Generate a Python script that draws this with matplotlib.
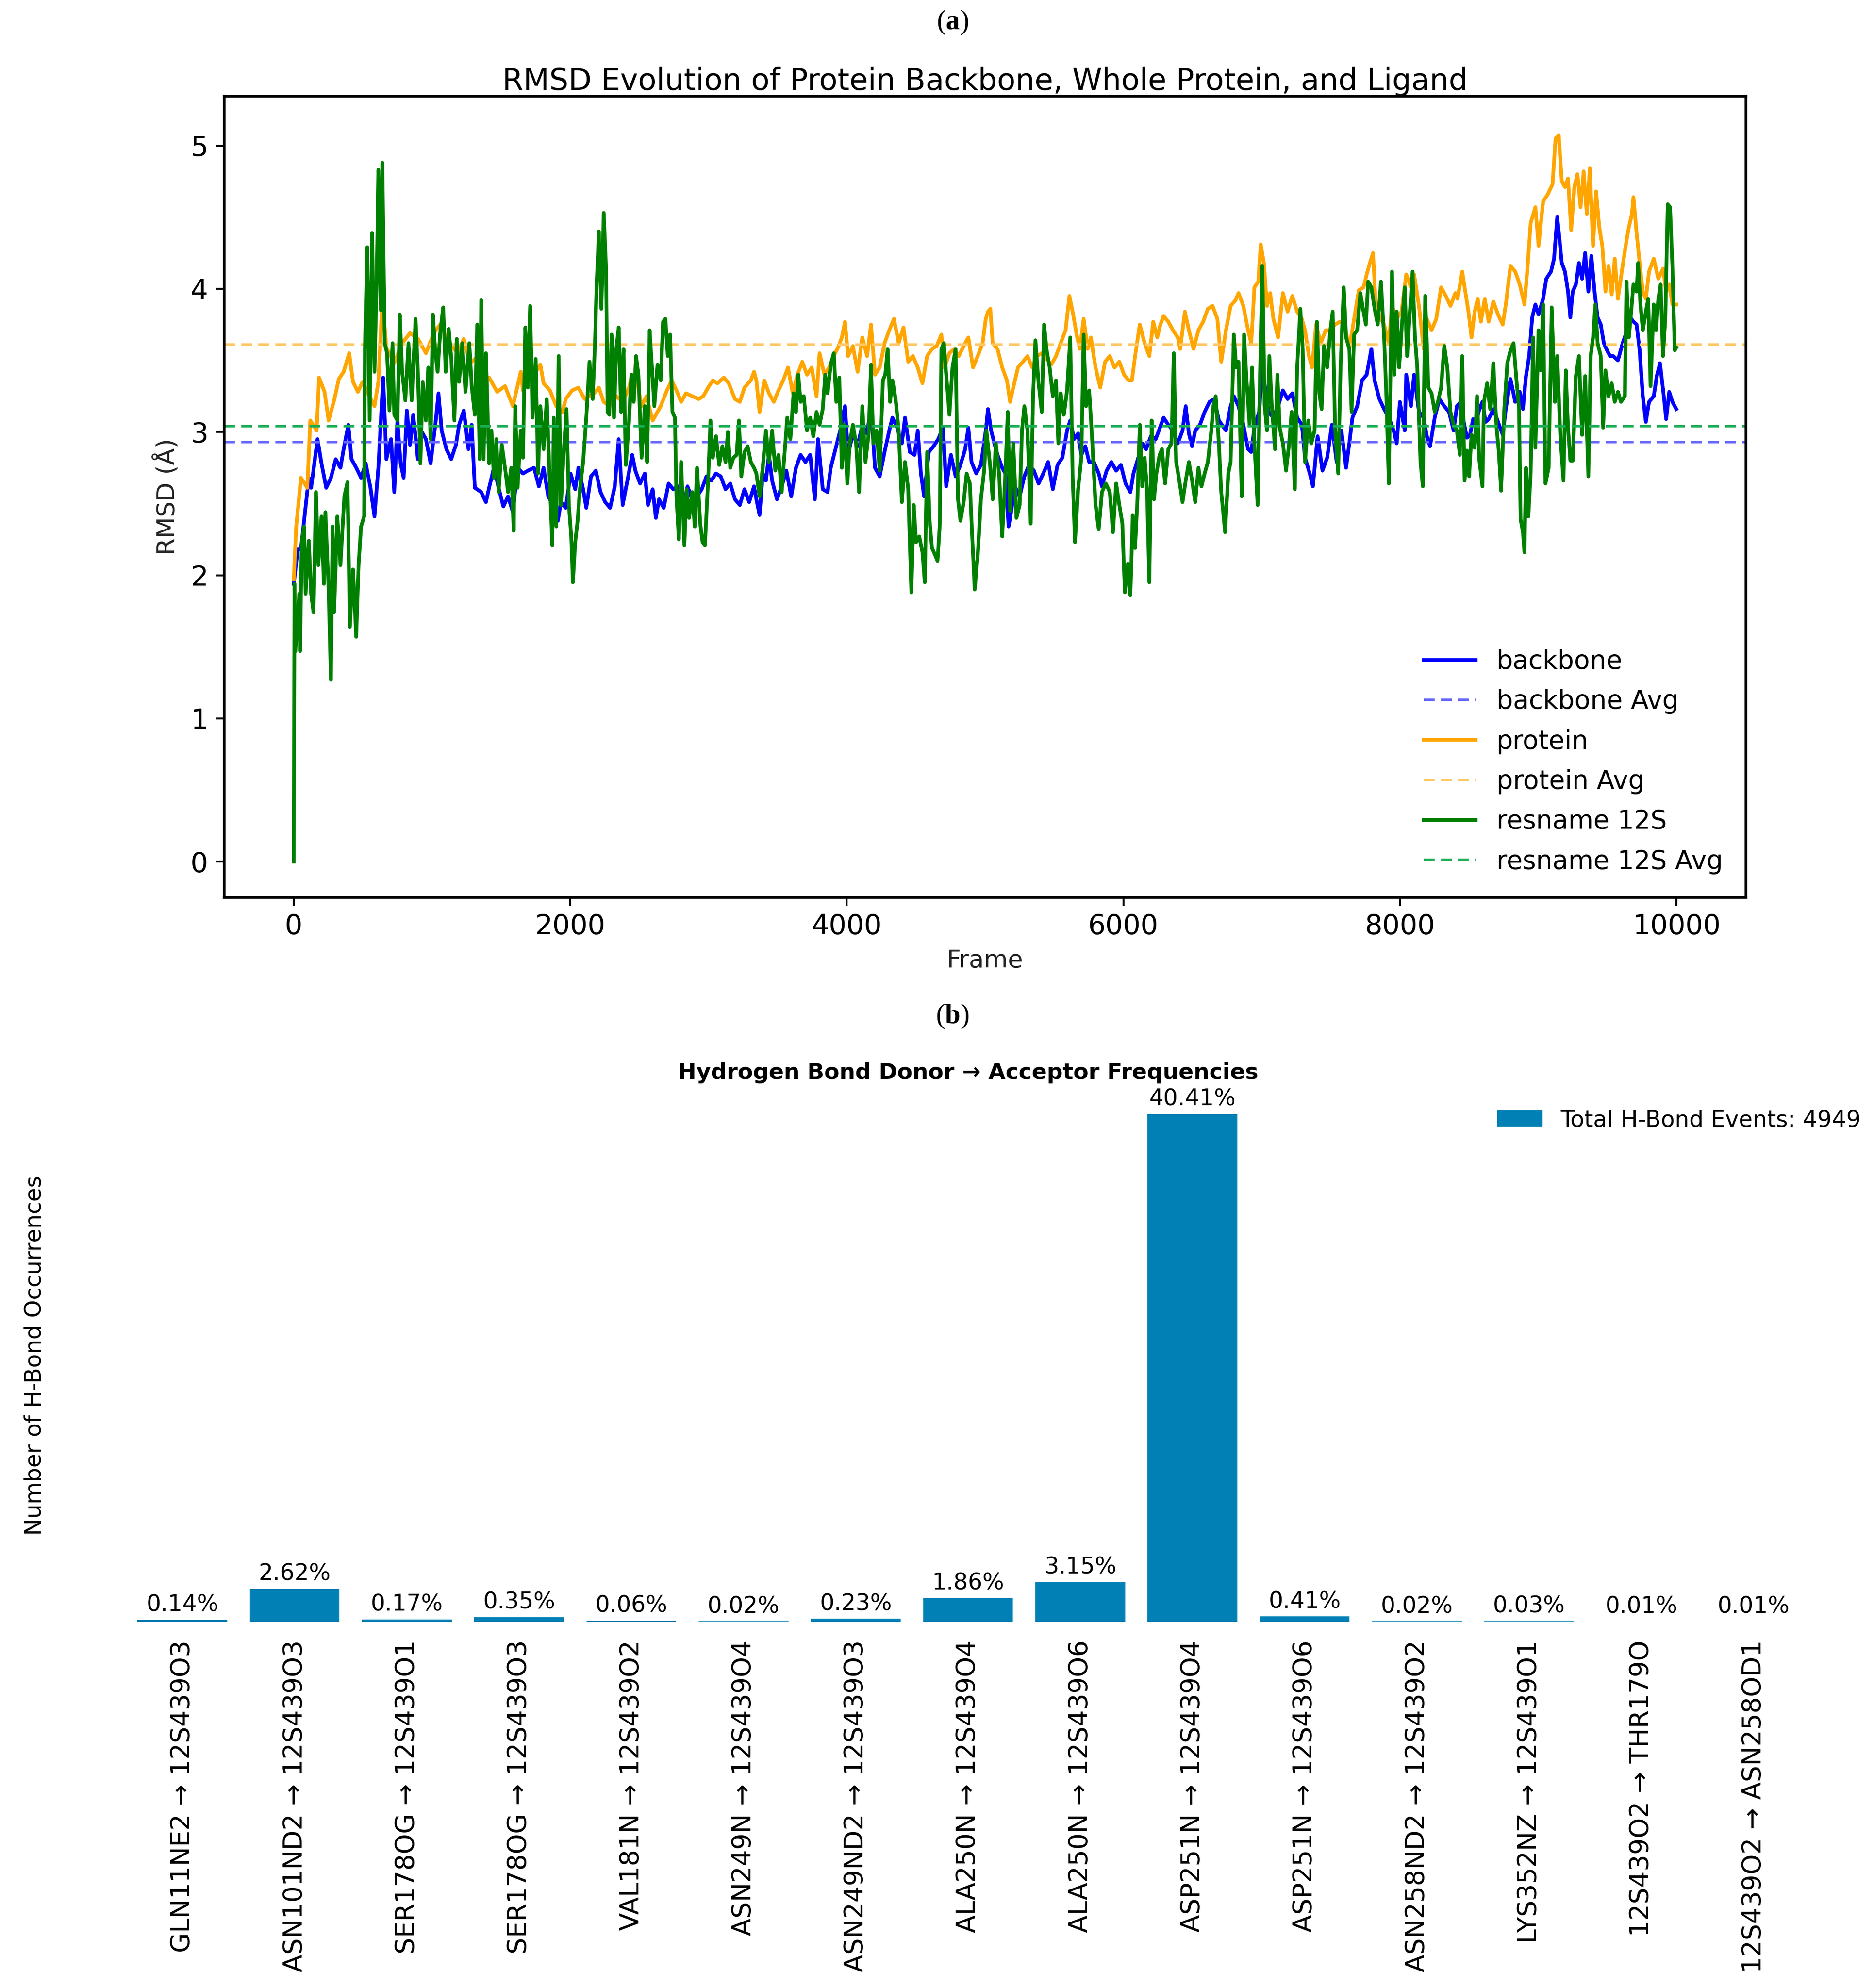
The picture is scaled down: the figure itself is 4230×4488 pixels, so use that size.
import matplotlib
matplotlib.use("Agg")
import matplotlib.pyplot as plt

# ---------------- data: RMSD traces (frame, RMSD in Å) ----------------
backbone = [
    (0,1.94),(29,2.18),(52,2.18),(109,2.68),(126,2.61),(172,2.95),(201,2.78),(235,2.61),(269,2.68),(304,2.81),
    (338,2.75),(361,2.88),(395,3.05),(418,2.81),(452,2.75),(487,2.68),(521,2.78),(555,2.61),(584,2.41),(612,2.75),
    (647,3.38),(670,2.81),(704,2.95),(727,2.58),(750,3.08),(773,2.78),(795,2.68),(818,3.15),(841,2.91),(864,3.12),
    (898,2.81),(921,3.01),(956,2.95),(990,2.78),(1024,3.05),(1047,3.27),(1070,3.01),(1104,2.88),(1139,2.81),(1173,2.91),
    (1196,3.05),(1230,3.15),(1264,2.88),(1287,3.05),(1310,2.61),(1356,2.58),(1390,2.51),(1413,2.61),(1448,2.75),(1482,2.61),
    (1516,2.48),(1550,2.55),(1585,2.44),(1619,2.75),
    (1658,2.71),(1693,2.73),(1738,2.75),(1773,2.62),(1807,2.75),(1841,2.55),(1876,2.49),(1910,2.38),(1933,2.51),(1967,2.47),
    (2002,2.71),(2036,2.60),(2059,2.75),(2093,2.60),(2116,2.47),(2150,2.69),(2185,2.73),(2219,2.58),(2253,2.51),(2288,2.47),
    (2322,2.62),(2350,2.95),(2379,2.49),(2413,2.66),(2448,2.84),(2471,2.73),(2505,2.64),(2539,2.71),(2562,2.49),(2596,2.60),
    (2619,2.40),(2642,2.53),(2676,2.47),(2711,2.64),(2745,2.60),(2779,2.62),(2814,2.45),(2848,2.62),(2882,2.53),(2917,2.55),
    (2951,2.60),(2985,2.69),(3020,2.66),(3054,2.71),(3088,2.69),(3123,2.60),(3157,2.64),(3191,2.53),(3226,2.49),(3260,2.60),
    (3294,2.51),(3329,2.62),
    (3346,2.53),(3369,2.42),(3392,2.71),(3415,2.66),(3437,2.84),(3460,2.66),(3495,2.53),(3529,2.62),(3563,2.73),(3598,2.55),
    (3632,2.75),(3666,2.84),(3701,2.79),(3735,2.84),(3769,2.53),(3792,2.95),(3826,2.60),(3861,2.58),(3884,2.75),(3918,2.88),
    (3952,3.01),(3987,3.18),(4009,2.84),(4044,2.99),(4078,2.90),(4112,3.05),(4147,2.99),(4175,3.18),(4204,2.75),(4238,2.69),
    (4273,2.86),(4307,3.01),(4330,3.10),(4364,3.03),(4398,2.92),(4421,3.10),(4456,2.86),(4490,2.84),(4513,3.01),(4536,2.71),
    (4559,2.55),(4593,2.86),(4627,2.90),(4661,2.95),(4696,3.03),(4719,2.62),(4753,2.84),(4787,2.69),(4822,2.77),(4856,2.88),
    (4879,3.03),(4902,2.79),(4936,2.71),(4970,2.77),(5005,3.01),
    (5021,3.16),(5044,3.01),(5067,2.92),(5090,2.84),(5124,2.75),(5147,2.71),(5170,2.34),(5193,2.47),(5215,2.62),(5250,2.55),
    (5284,2.69),(5318,2.77),(5353,2.73),(5387,2.64),(5421,2.71),(5456,2.79),(5490,2.60),(5524,2.77),(5559,2.82),(5593,3.01),
    (5616,3.08),(5644,2.95),(5673,2.99),(5696,2.84),(5725,2.90),(5753,2.79),(5787,2.79),(5822,2.71),(5845,2.62),(5879,2.73),
    (5913,2.79),(5948,2.73),(5982,2.77),(6016,2.64),(6051,2.58),(6073,2.71),(6108,2.82),(6142,2.92),(6165,2.88),(6199,2.97),
    (6234,2.95),(6257,3.01),(6291,3.10),(6325,3.05),(6359,3.01),(6394,2.92),(6428,3.01),(6451,3.18),(6474,2.99),(6497,2.90),
    (6520,3.01),(6554,3.05),(6588,3.14),(6623,3.21),(6657,3.23),(6691,3.08),
    (6742,3.01),(6776,3.18),(6799,3.25),(6833,3.18),(6868,3.05),(6902,2.88),(6925,2.86),(6948,3.03),(6982,3.14),(7005,3.45),
    (7028,3.27),(7051,3.14),(7085,3.10),(7119,3.18),(7154,3.29),(7188,3.23),(7222,3.27),(7257,3.10),(7291,3.05),(7314,2.82),
    (7348,2.71),(7371,2.62),(7405,2.97),(7440,2.73),(7474,2.82),(7508,3.05),(7543,2.79),(7577,3.01),(7611,2.75),(7634,2.92),
    (7657,3.10),(7691,3.18),(7726,3.36),(7760,3.40),(7794,3.58),(7817,3.36),(7852,3.23),(7886,3.16),(7920,3.10),(7955,3.01),
    (7977,2.92),(8000,3.21),(8035,3.01),(8046,3.40),(8080,3.18),(8103,3.40),(8138,3.14),(8172,3.10),(8195,2.97),(8218,2.90),
    (8252,3.10),(8286,3.23),(8321,3.18),(8355,3.14),(8389,3.01),(8412,3.18),
    (8440,3.21),(8462,3.07),(8485,2.96),(8507,2.98),(8530,3.09),(8552,3.07),(8575,3.16),(8597,3.21),(8620,3.07),(8642,3.09),
    (8676,3.16),(8710,3.07),(8744,2.98),(8766,3.16),(8800,3.37),(8834,3.21),(8867,3.28),(8890,3.16),(8912,3.39),(8935,3.53),
    (8957,3.80),(8980,3.89),(9003,3.82),(9036,3.93),(9059,4.07),(9093,4.12),(9115,4.21),(9138,4.50),(9155,4.34),(9171,4.18),
    (9194,4.12),(9216,3.98),(9233,3.80),(9250,3.98),(9273,4.03),(9295,4.18),(9318,4.07),(9340,4.25),(9363,3.98),(9385,4.23),
    (9408,3.98),(9430,3.80),(9453,3.75),(9475,3.62),(9498,3.57),(9520,3.53),(9543,3.53),(9577,3.50),(9611,3.62),(9644,3.71),
    (9667,3.80),(9689,3.77),(9712,3.75),(9734,3.57),(9757,3.25),(9779,3.07),(9802,3.21),(9836,3.25),(9858,3.39),(9881,3.48),
    (9903,3.30),(9926,3.09),(9948,3.28),(9971,3.21),(9999,3.16),
]

protein = [
    (0,1.97),(18,2.34),(52,2.68),(98,2.61),(120,3.08),(166,3.01),(183,3.38),(223,3.28),(252,3.08),(292,3.22),
    (326,3.37),(361,3.42),(401,3.55),(429,3.35),(464,3.28),(498,3.35),(532,3.28),(584,3.18),(612,3.35),(641,3.92),
    (670,3.59),(727,3.48),(784,3.62),(841,3.69),(899,3.65),(956,3.55),(1013,3.69),(1059,3.75),(1127,3.62),(1185,3.55),
    (1230,3.65),(1276,3.48),(1322,3.52),(1368,3.35),(1413,3.38),(1471,3.28),(1528,3.32),(1585,3.18),(1642,3.42),
    (1658,3.29),(1693,3.45),(1738,3.40),(1784,3.47),(1807,3.34),(1853,3.29),(1899,3.18),(1944,3.14),(1967,3.23),(2013,3.29),
    (2059,3.31),(2104,3.23),(2139,3.25),(2173,3.27),(2207,3.31),(2242,3.21),(2288,3.18),(2333,3.25),(2379,3.21),(2425,3.31),
    (2448,3.40),(2482,3.36),(2516,3.18),(2551,3.25),(2596,3.08),(2631,3.14),(2654,3.18),(2699,3.29),(2734,3.36),(2768,3.29),
    (2802,3.21),(2837,3.27),(2882,3.25),(2928,3.23),(2962,3.25),(2997,3.31),(3031,3.36),(3065,3.34),(3111,3.38),(3146,3.34),
    (3191,3.23),(3226,3.21),(3260,3.31),(3306,3.36),(3329,3.42),
    (3346,3.36),(3369,3.14),(3403,3.36),(3437,3.27),(3472,3.21),(3506,3.29),(3540,3.36),(3575,3.45),(3609,3.27),(3643,3.40),
    (3678,3.49),(3712,3.40),(3746,3.45),(3781,3.25),(3803,3.55),(3838,3.40),(3872,3.45),(3906,3.53),(3941,3.60),(3964,3.66),
    (3987,3.77),(4009,3.53),(4044,3.60),(4078,3.42),(4112,3.66),(4147,3.53),(4175,3.75),(4204,3.40),(4238,3.45),(4273,3.62),
    (4307,3.71),(4341,3.79),(4375,3.62),(4410,3.73),(4444,3.49),(4478,3.53),(4513,3.45),(4547,3.34),(4581,3.53),(4616,3.58),
    (4650,3.60),(4684,3.68),(4707,3.45),(4742,3.55),(4776,3.58),(4810,3.53),(4845,3.60),(4879,3.66),(4913,3.45),(4947,3.53),
    (4982,3.62),(5005,3.79),
    (5021,3.84),(5038,3.86),(5055,3.62),(5090,3.58),(5124,3.45),(5158,3.36),(5181,3.21),(5204,3.31),(5238,3.45),(5273,3.49),
    (5307,3.53),(5341,3.45),(5376,3.53),(5410,3.55),(5444,3.51),(5479,3.47),(5513,3.53),(5547,3.62),(5582,3.71),(5610,3.95),
    (5639,3.81),(5662,3.68),(5685,3.58),(5713,3.79),(5742,3.58),(5765,3.66),(5799,3.45),(5833,3.31),(5868,3.49),(5902,3.53),
    (5936,3.45),(5971,3.49),(6005,3.40),(6039,3.36),(6062,3.36),(6085,3.53),(6119,3.75),(6154,3.62),(6188,3.53),(6216,3.77),
    (6245,3.66),(6268,3.75),(6291,3.81),(6325,3.77),(6359,3.71),(6394,3.66),(6411,3.58),(6445,3.84),(6474,3.71),(6508,3.58),
    (6543,3.71),(6577,3.77),(6611,3.86),(6645,3.88),(6680,3.79),(6708,3.49),
    (6742,3.71),(6776,3.88),(6811,3.92),(6833,3.97),(6868,3.88),(6902,3.71),(6925,3.62),(6948,4.01),(6976,4.05),(6994,4.31),
    (7016,4.18),(7039,3.88),(7062,3.97),(7085,3.79),(7119,3.66),(7154,3.97),(7188,3.84),(7222,3.95),(7257,3.84),(7291,3.79),
    (7314,3.71),(7342,3.53),(7365,3.45),(7394,3.75),(7428,3.62),(7463,3.71),(7497,3.71),(7531,3.75),(7566,3.77),(7600,3.75),
    (7634,3.58),(7669,3.79),(7703,3.99),(7737,4.01),(7760,4.10),(7783,4.18),(7806,4.25),(7823,3.92),(7852,3.81),(7886,3.75),
    (7920,3.62),(7943,3.88),(7977,3.79),(8012,3.84),(8046,4.10),(8080,4.01),(8103,4.10),(8138,3.88),(8172,3.58),(8195,3.79),
    (8229,3.71),(8263,3.79),(8298,4.01),(8332,3.95),(8366,3.88),(8401,3.97),
    (8417,3.93),(8451,4.12),(8473,3.98),(8496,3.84),(8518,3.66),(8541,3.84),(8563,3.93),(8586,3.77),(8614,3.93),(8642,3.77),
    (8676,3.91),(8710,3.82),(8744,3.75),(8766,3.89),(8800,4.16),(8834,4.12),(8867,4.03),(8901,3.89),(8924,4.16),(8946,4.46),
    (8980,4.57),(9003,4.30),(9036,4.61),(9070,4.66),(9104,4.73),(9126,5.05),(9149,5.07),(9171,4.75),(9194,4.71),(9216,4.77),
    (9239,4.41),(9262,4.71),(9284,4.80),(9307,4.57),(9329,4.82),(9352,4.52),(9374,4.84),(9397,4.30),(9419,4.68),(9442,4.43),
    (9464,4.30),(9487,3.98),(9509,4.16),(9532,3.96),(9554,4.21),(9577,3.93),(9611,4.16),(9633,4.30),(9656,4.43),(9678,4.52),
    (9689,4.64),(9712,4.39),(9734,4.18),(9757,3.98),(9779,3.93),(9802,4.12),(9836,4.21),(9869,4.07),(9903,4.14),(9926,3.98),
    (9948,4.03),(9971,3.89),(9999,3.89),
]

ligand = [
    (0,0.00),(6,1.94),(12,1.47),(40,1.87),(46,1.47),(58,2.24),(75,2.34),(86,1.87),(109,2.24),(126,1.87),
    (143,1.74),(161,2.58),(178,2.07),(201,2.41),(218,1.94),(229,2.44),(252,1.91),(269,1.27),(281,2.34),(292,1.74),
    (315,2.41),(338,2.07),(366,2.55),(389,2.65),(406,1.64),(429,2.04),(452,1.57),(469,2.07),(487,2.34),(509,2.41),
    (515,3.59),(532,4.29),(549,3.08),(567,4.39),(584,3.42),(601,4.09),(612,4.83),(630,3.85),(641,4.88),(658,3.62),
    (675,3.55),(692,3.15),(715,3.62),(727,3.12),(750,3.08),(767,3.82),(784,3.42),(807,3.22),(830,3.62),(853,3.22),
    (881,3.79),(898,3.42),(916,2.78),(933,3.35),(956,3.08),(973,3.45),(990,2.95),(1007,3.82),(1024,3.55),(1041,3.42),
    (1059,3.69),(1081,3.87),(1099,3.42),(1121,3.72),(1139,3.52),(1162,3.08),(1179,3.65),(1196,3.35),(1219,3.62),(1242,3.28),
    (1270,3.62),(1287,3.32),(1310,3.12),(1327,3.75),(1345,2.81),(1356,3.92),(1373,2.81),(1390,3.55),(1413,2.78),(1430,3.01),
    (1448,2.68),(1465,2.95),(1482,2.58),(1505,2.91),(1528,2.75),(1550,2.58),(1573,2.75),(1591,2.31),(1602,3.18),(1619,2.61),
    (1642,3.01),
    (1658,2.82),(1675,3.73),(1693,3.31),(1710,3.88),(1727,3.10),(1750,3.51),(1767,2.71),(1784,3.18),(1807,2.88),(1830,3.23),
    (1853,2.62),(1870,2.21),(1881,3.10),(1899,2.34),(1916,3.53),(1933,2.49),(1950,2.82),(1973,3.16),(1990,2.49),(2007,2.27),
    (2019,1.95),(2036,2.23),(2053,2.38),(2070,2.60),(2093,2.79),(2116,3.10),(2139,3.49),(2162,3.23),(2179,3.62),(2190,4.01),
    (2207,4.40),(2225,3.86),(2242,4.53),(2259,4.14),(2270,3.14),(2282,3.12),(2299,3.68),(2316,3.10),(2333,3.58),(2350,3.73),
    (2368,3.14),(2385,3.58),(2402,2.77),(2425,3.08),(2442,3.40),(2459,3.21),(2476,3.53),(2493,3.40),(2516,2.82),(2539,3.18),
    (2556,2.79),(2574,3.71),(2591,3.45),(2608,3.18),(2631,3.47),(2654,3.36),(2671,3.77),(2688,3.79),(2705,3.53),(2722,3.68),
    (2739,3.14),(2757,3.10),(2768,2.55),(2785,2.25),(2802,2.79),(2825,2.21),(2842,2.60),(2860,2.40),(2882,2.58),(2900,2.34),
    (2917,2.75),(2940,2.36),(2957,2.23),(2974,2.21),(2997,2.66),(3014,3.08),(3031,2.82),(3054,2.97),(3077,2.77),(3100,2.90),
    (3123,2.79),(3140,3.00),(3157,2.75),(3180,2.82),(3203,2.84),(3220,3.08),(3237,2.69),(3260,2.86),(3283,2.90),(3306,2.79),
    (3329,2.75),
    (3346,2.71),(3369,2.55),(3392,2.75),(3415,3.01),(3437,2.79),(3460,3.01),(3483,2.73),(3506,2.84),(3529,2.58),(3552,2.88),
    (3569,3.10),(3592,2.95),(3615,3.27),(3632,3.14),(3649,3.40),(3666,3.21),(3689,3.25),(3712,3.01),(3735,3.10),(3758,2.97),
    (3781,3.14),(3803,3.05),(3826,3.16),(3844,3.40),(3861,3.27),(3884,3.47),(3906,3.55),(3924,3.21),(3946,3.38),(3964,2.75),
    (3981,3.05),(4004,2.64),(4021,2.92),(4044,3.05),(4067,2.92),(4089,2.58),(4112,3.18),(4135,2.79),(4158,2.99),(4175,3.47),
    (4192,2.92),(4215,3.01),(4238,2.73),(4261,3.36),(4278,3.40),(4295,3.58),(4313,3.21),(4330,3.36),(4353,3.23),(4375,3.01),
    (4398,2.51),(4421,2.79),(4444,2.60),(4467,1.88),(4484,2.49),(4501,2.23),(4524,2.27),(4547,2.16),(4564,1.95),(4581,2.86),
    (4599,2.38),(4616,2.19),(4639,2.14),(4656,2.10),(4673,2.36),(4684,3.58),(4702,3.62),(4719,3.40),(4742,3.12),(4764,3.45),
    (4787,3.58),(4804,2.53),(4822,2.38),(4845,2.51),(4867,2.71),(4890,2.64),(4907,2.27),(4925,1.90),(4947,2.14),(4970,2.53),
    (4993,2.73),(5010,3.01),
    (5038,2.75),(5055,2.53),(5078,2.92),(5101,2.71),(5124,2.27),(5147,2.71),(5164,3.14),(5181,2.45),(5204,2.92),(5227,2.40),
    (5250,2.49),(5267,3.01),(5284,3.18),(5307,3.01),(5330,2.36),(5347,3.25),(5364,3.64),(5387,3.34),(5410,3.14),(5427,3.75),
    (5444,3.58),(5467,3.45),(5490,3.25),(5513,3.36),(5530,2.92),(5547,3.27),(5570,3.12),(5593,3.29),(5616,3.66),(5633,2.71),
    (5650,2.23),(5673,2.60),(5696,2.82),(5713,3.68),(5730,3.18),(5753,3.29),(5776,2.92),(5799,2.49),(5822,2.32),(5845,2.58),
    (5873,2.64),(5902,2.58),(5925,2.30),(5948,2.64),(5971,2.49),(5993,2.36),(6011,1.88),(6033,2.08),(6051,1.86),(6068,2.42),
    (6085,2.19),(6102,2.53),(6119,3.05),(6136,2.62),(6154,2.82),(6171,2.60),(6188,1.95),(6205,3.08),(6222,2.53),(6239,2.71),
    (6262,2.84),(6279,2.88),(6302,2.64),(6325,2.88),(6348,2.92),(6365,3.55),(6382,2.79),(6405,2.66),(6428,2.51),(6451,2.66),
    (6474,2.79),(6497,2.66),(6520,2.51),(6543,2.75),(6565,2.62),(6588,2.71),(6611,2.79),(6634,2.99),(6651,3.18),(6668,3.25),
    (6691,2.92),(6708,2.58),
    (6736,2.30),(6759,2.71),(6776,2.79),(6799,3.68),(6816,3.45),(6833,3.49),(6856,2.55),(6873,3.68),(6891,3.36),(6913,3.05),
    (6931,3.45),(6948,2.92),(6971,2.49),(6988,3.36),(7005,4.16),(7022,3.18),(7039,3.01),(7056,3.53),(7074,3.18),(7097,2.88),
    (7114,3.40),(7131,3.03),(7154,2.92),(7177,2.73),(7199,2.92),(7217,3.14),(7240,2.60),(7257,3.45),(7280,3.86),(7297,3.58),
    (7314,2.79),(7337,3.08),(7360,2.92),(7383,3.01),(7400,3.77),(7417,3.27),(7434,3.16),(7451,3.60),(7474,3.45),(7497,3.71),
    (7514,3.84),(7531,3.03),(7554,2.71),(7571,3.45),(7594,4.01),(7611,3.66),(7634,3.58),(7651,3.14),(7669,3.68),(7691,3.71),
    (7714,3.97),(7737,3.84),(7754,3.75),(7771,4.05),(7794,4.01),(7817,3.86),(7840,3.75),(7863,4.05),(7886,3.66),(7903,3.23),
    (7920,2.64),(7943,4.12),(7960,3.40),(7977,3.84),(7995,3.45),(8012,3.71),(8035,4.01),(8052,3.53),(8069,3.79),(8092,4.12),
    (8109,3.66),(8126,3.45),(8149,2.79),(8166,2.62),(8183,3.95),(8206,3.31),(8229,3.27),(8252,3.14),(8275,3.21),(8298,3.31),
    (8321,3.60),(8343,3.45),(8366,3.14),(8389,3.05),(8412,3.01),
    (8434,2.84),(8451,3.53),(8468,2.66),(8485,2.87),(8501,2.69),(8518,2.98),(8541,2.89),(8558,3.25),(8575,2.80),(8597,2.62),
    (8608,3.21),(8631,3.34),(8653,3.16),(8676,3.48),(8699,3.03),(8715,2.87),(8732,2.59),(8755,3.16),(8777,3.48),(8800,3.57),
    (8822,3.62),(8845,3.34),(8862,3.16),(8873,2.39),(8890,2.30),(8901,2.16),(8912,2.75),(8929,2.41),(8946,2.71),(8963,3.66),
    (8980,2.89),(9003,3.71),(9019,3.43),(9036,3.89),(9053,2.64),(9076,2.75),(9098,3.87),(9121,3.21),(9138,3.53),(9160,2.98),
    (9183,2.66),(9200,3.43),(9216,3.03),(9233,2.80),(9250,2.80),(9273,3.39),(9295,3.53),(9318,2.98),(9340,3.39),(9363,2.69),
    (9380,3.53),(9397,3.66),(9414,3.89),(9430,3.62),(9453,3.53),(9470,3.03),(9487,3.43),(9509,3.25),(9532,3.34),(9554,3.21),
    (9577,3.28),(9599,3.21),(9627,3.25),(9639,4.05),(9656,3.66),(9673,3.84),(9689,4.03),(9712,3.98),(9723,4.18),(9740,3.89),
    (9757,3.71),(9779,3.84),(9796,3.93),(9813,3.32),(9836,3.89),(9853,3.71),(9869,3.93),(9886,4.03),(9903,3.53),(9920,3.80),
    (9937,4.59),(9954,4.57),(9971,4.16),(9988,3.57),(9999,3.59),
]

series_names = ["backbone", "protein", "resname 12S"]
series_avg = [2.93, 3.61, 3.04]          # dashed average lines
x_ticks = [0, 2000, 4000, 6000, 8000, 10000]
y_ticks = [0, 1, 2, 3, 4, 5]

# ---------------- data: hydrogen bond donor -> acceptor counts ----------------
hb_pairs = ["GLN11NE2 → 12S439O3", "ASN101ND2 → 12S439O3", "SER178OG → 12S439O1",
            "SER178OG → 12S439O3", "VAL181N → 12S439O2", "ASN249N → 12S439O4",
            "ASN249ND2 → 12S439O3", "ALA250N → 12S439O4", "ALA250N → 12S439O6",
            "ASP251N → 12S439O4", "ASP251N → 12S439O6", "ASN258ND2 → 12S439O2",
            "LYS352NZ → 12S439O1", "12S439O2 → THR179O", "12S439O2 → ASN258OD1"]
hb_counts = [14, 262, 17, 35, 6, 2, 23, 186, 315, 4041, 41, 2, 3, 1, 1]
n_frames = 10000

# ---------------- figure ----------------
W, H = 4230, 4488
fig = plt.figure(figsize=(W / 100, H / 100), dpi=100)

plt.rcParams["mathtext.fontset"] = "custom"
plt.rcParams["mathtext.rm"] = "Liberation Serif"
plt.rcParams["mathtext.bf"] = "Liberation Serif:bold"

def fx(px):
    return px / W

def fy(py):
    return 1 - py / H

fig.text(fx(2150), fy(51), r"($\mathbf{a}$)", family="Liberation Serif", fontsize=45,
         ha="center", va="center")
fig.text(fx(2150), fy(2295), r"($\mathbf{b}$)", family="Liberation Serif", fontsize=45,
         ha="center", va="center")

# ---- panel (a) ----
ax1 = fig.add_axes([fx(506), fy(2026), fx(3941) - fx(506), fy(217) - fy(2026)])
colors = ["#0000FF", "#FFA500", "#008000"]
avg_colors = ["#6666FF", "#FFC866", "#19AE55"]
for data, name, col, acol, avg in zip([backbone, protein, ligand], series_names,
                                      colors, avg_colors, series_avg):
    fr, rm = zip(*data)
    ax1.plot(fr, rm, color=col, lw=6.0, label=name)
    ax1.axhline(avg, color=acol, lw=4.2, ls=(0, (4.2, 2.4)), label=f"{name} Avg")

ax1.set_xlim(-503, 10503)
ax1.set_ylim(-0.25, 5.345)
ax1.set_xticks(x_ticks)
ax1.set_yticks(y_ticks)
ax1.tick_params(labelsize=45, length=14, width=3.2, pad=12)
for sp in ax1.spines.values():
    sp.set_linewidth(4.5)
ax1.set_xlabel("Frame", fontsize=40, labelpad=14, color="#222222")
ax1.set_ylabel("RMSD (Å)", fontsize=40, labelpad=18, color="#222222")
ax1.set_title("RMSD Evolution of Protein Backbone, Whole Protein, and Ligand",
              fontsize=49, pad=10)
ax1.legend(loc="lower right", frameon=False, fontsize=42, labelspacing=0.57)

# ---- panel (b) ----
ax2 = fig.add_axes([fx(123), fy(3661), fx(4247) - fx(123), fy(2458) - fy(3661)])
xpos = range(len(hb_pairs))
bars = ax2.bar(xpos, hb_counts, width=0.8, color="#0080B5",
               label=f"Total H-Bond Events: {sum(hb_counts)}")
for b, c in zip(bars, hb_counts):
    ax2.annotate(f"{c / n_frames * 100:.2f}%", (b.get_x() + b.get_width() / 2, b.get_height()),
                 xytext=(0, 6), textcoords="offset points", ha="center", va="bottom",
                 fontsize=37)
ax2.set_xlim(-1.14, 15.14)
ax2.set_ylim(0, max(hb_counts) * 1.05)
ax2.set_xticks(list(xpos))
ax2.set_xticklabels(hb_pairs, rotation=90, fontsize=42)
ax2.tick_params(axis="x", length=0, pad=30)
ax2.set_yticks([])
for sp in ax2.spines.values():
    sp.set_visible(False)
ax2.set_ylabel("Number of H-Bond Occurrences", fontsize=37, labelpad=14)
ax2.set_title("Hydrogen Bond Donor → Acceptor Frequencies", fontsize=36,
              fontweight="bold", pad=16)
ax2.legend(loc="upper right", frameon=False, fontsize=37)

fig.savefig("out.png", dpi=100)
